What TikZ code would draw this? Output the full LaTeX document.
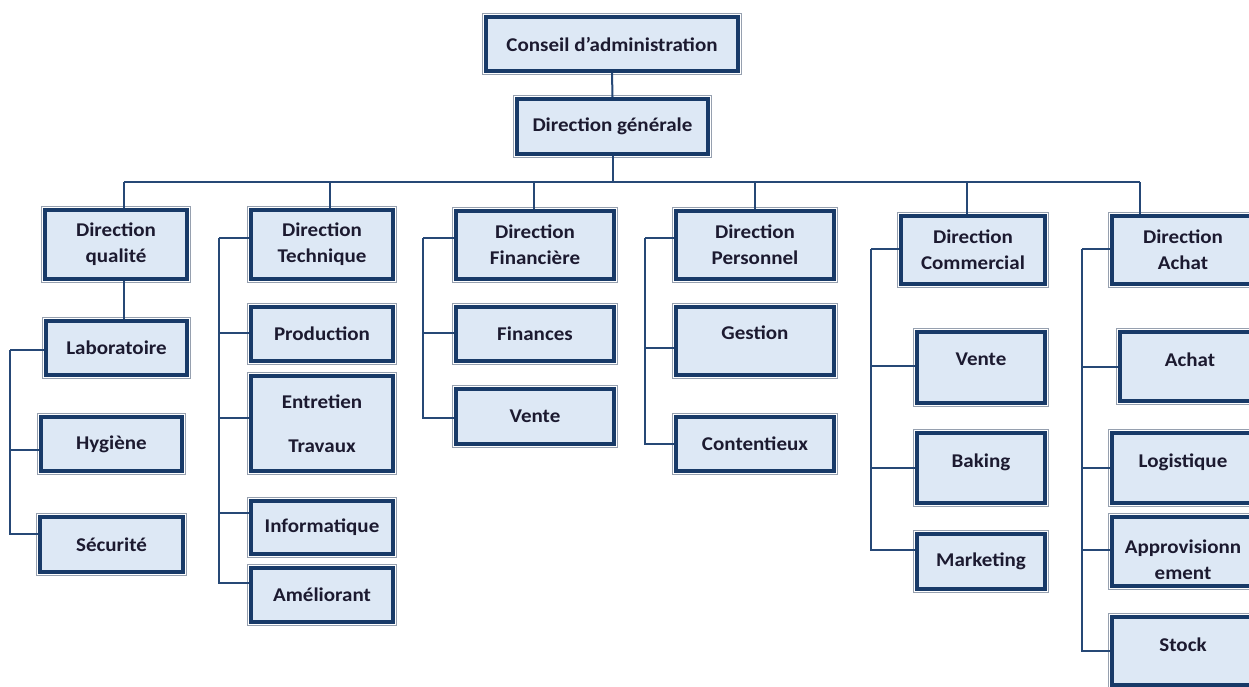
\documentclass[tikz,border=0pt]{standalone}
\usepackage{fontspec}
\setmainfont{Carlito}[FakeStretch=1.08]
\usetikzlibrary{calc}

\definecolor{boxnavy}{RGB}{24,58,104}
\definecolor{boxfill}{RGB}{221,232,245}
\definecolor{boxrim}{RGB}{150,160,175}
\definecolor{linkblue}{RGB}{38,72,118}
\definecolor{labelink}{RGB}{28,26,48}

\tikzset{every picture/.style={line width=0.75pt}}
\tikzset{
  unit/.style={draw=boxnavy, line width=2.8pt, fill=boxfill, text=labelink,
    font=\fontsize{14.6}{19.5}\selectfont\bfseries, align=center, inner sep=2pt,
    preaction={draw=boxrim, line width=6pt},
    preaction={draw=white, line width=4.6pt}},
  dims/.style 2 args={minimum width=#1*0.75pt-6pt, minimum height=#2*0.75pt-6pt},
  lift/.style={text depth=#1},
  link/.style={draw=linkblue, line width=1.5pt},
}

\begin{document}
\begin{tikzpicture}[x=0.75pt,y=0.75pt,yscale=-1,xscale=1]
  \useasboundingbox (0,0) rectangle (1249,686);
  \clip (0,0) rectangle (1249,686);

  %Top
  \node[unit, dims={260}{62}] (conseil) at (612,44) {Conseil d’administration};
  \node[unit, dims={199}{63}] (dg) at (612.5,126.5) {Direction générale};

  %Directions
  \node[unit, dims={150}{77}] (dq) at (116,244.5) {Direction\\qualité};
  \node[unit, dims={150}{77}] (dt) at (322,244.5) {Direction\\Technique};
  \node[unit, dims={166}{76}] (df) at (535,245) {Direction\\Financière};
  \node[unit, dims={166}{76}] (dp) at (755,245) {Direction\\Personnel};
  \node[unit, dims={152}{76}] (dc) at (973,250) {Direction\\Commercial};
  \node[unit, dims={150}{76}] (da) at (1183,250) {Direction\\Achat};

  %Services
  \node[unit, dims={149}{62}] (labo) at (116.5,348) {Laboratoire};
  \node[unit, dims={149}{62}] (hygiene) at (111.5,444) {Hygiène};
  \node[unit, dims={151}{63}] (securite) at (111.5,544.5) {Sécurité};

  \node[unit, dims={150}{62}] (production) at (322,334) {Production};
  \node[unit, dims={150}{103}] (entretien) at (322,423.5) {Entretien\\[13.5pt]Travaux};
  \node[unit, dims={150}{61}] (informatique) at (322,527.5) {Informatique};
  \node[unit, dims={150}{62}] (ameliorant) at (322,595) {Améliorant};

  \node[unit, dims={166}{62}] (finances) at (535,334) {Finances};
  \node[unit, dims={166}{63}] (ventef) at (535,416.5) {Vente};

  \node[unit, dims={166}{76}, lift=12pt] (gestion) at (755,341) {Gestion};
  \node[unit, dims={166}{62}] (contentieux) at (755,444) {Contentieux};

  \node[unit, dims={136}{79}, lift=12pt] (ventec) at (981,367.5) {Vente};
  \node[unit, dims={136}{78}, lift=10.5pt] (baking) at (981,468) {Baking};
  \node[unit, dims={136}{63}] (marketing) at (981,561.5) {Marketing};

  \node[unit, dims={148}{77}, lift=10.5pt] (achat) at (1190,366.5) {Achat};
  \node[unit, dims={150}{78}, lift=10.5pt] (logistique) at (1183,468) {Logistique};
  \node[unit, dims={150}{77}] (appro) at (1183,551.5) {\rule{0pt}{22pt}Approvisionn\\ement};
  \node[unit, dims={150}{76}, lift=9pt] (stock) at (1183,651) {Stock};

  %Bus
  \coordinate (tapQ) at (124,182);
  \coordinate (tapT) at (330,182);
  \coordinate (tapF) at (534,182);
  \coordinate (tapP) at (755,182);
  \coordinate (tapC) at (967,182);
  \coordinate (tapA) at (1140,182);
  \draw[link] (conseil.south) -- (dg.north);
  \draw[link] (dg.south) -- (dg.south |- tapQ);
  \draw[link] (tapQ) -- (tapA);
  \foreach \t/\n in {tapQ/dq, tapT/dt, tapF/df, tapP/dp, tapC/dc, tapA/da}
    \draw[link] (\t) -- (\t |- \n.north);

  %Qualite
  \coordinate (spineQ) at (10,350);
  \draw[link] (tapQ |- dq.south) -- (tapQ |- labo.north);
  \draw[link] (spineQ) -- (spineQ -| labo.west);
  \draw[link] (spineQ) |- ($(hygiene.west)+(0,6)$);
  \draw[link] (spineQ) |- ($(securite.west)+(0,-11)$);

  %Technique
  \coordinate (spineT) at (219,238);
  \draw[link] (dt.west |- spineT) -- (spineT);
  \foreach \n/\dy in {production/-1, entretien/-5.5, informatique/-14.5, ameliorant/-12}
    \draw[link] (spineT) |- ($(\n.west)+(0,\dy)$);

  %Financiere
  \coordinate (spineF) at (423,238);
  \draw[link] (df.west |- spineF) -- (spineF);
  \foreach \n/\dy in {finances/-1, ventef/1.5}
    \draw[link] (spineF) |- ($(\n.west)+(0,\dy)$);

  %Personnel
  \coordinate (spineP) at (645,238);
  \draw[link] (dp.west |- spineP) -- (spineP);
  \foreach \n/\dy in {gestion/7, contentieux/0}
    \draw[link] (spineP) |- ($(\n.west)+(0,\dy)$);

  %Commercial
  \coordinate (spineC) at (871,249);
  \draw[link] (dc.west |- spineC) -- (spineC);
  \foreach \n/\dy in {ventec/-1.5, baking/0, marketing/-11.5}
    \draw[link] (spineC) |- ($(\n.west)+(0,\dy)$);

  %Achat
  \coordinate (spineA) at (1082,249);
  \draw[link] (da.west |- spineA) -- (spineA);
  \foreach \n/\dy in {achat/0, logistique/0, appro/-1.5, stock/0}
    \draw[link] (spineA) |- ($(\n.west)+(0,\dy)$);

\end{tikzpicture}
\end{document}
